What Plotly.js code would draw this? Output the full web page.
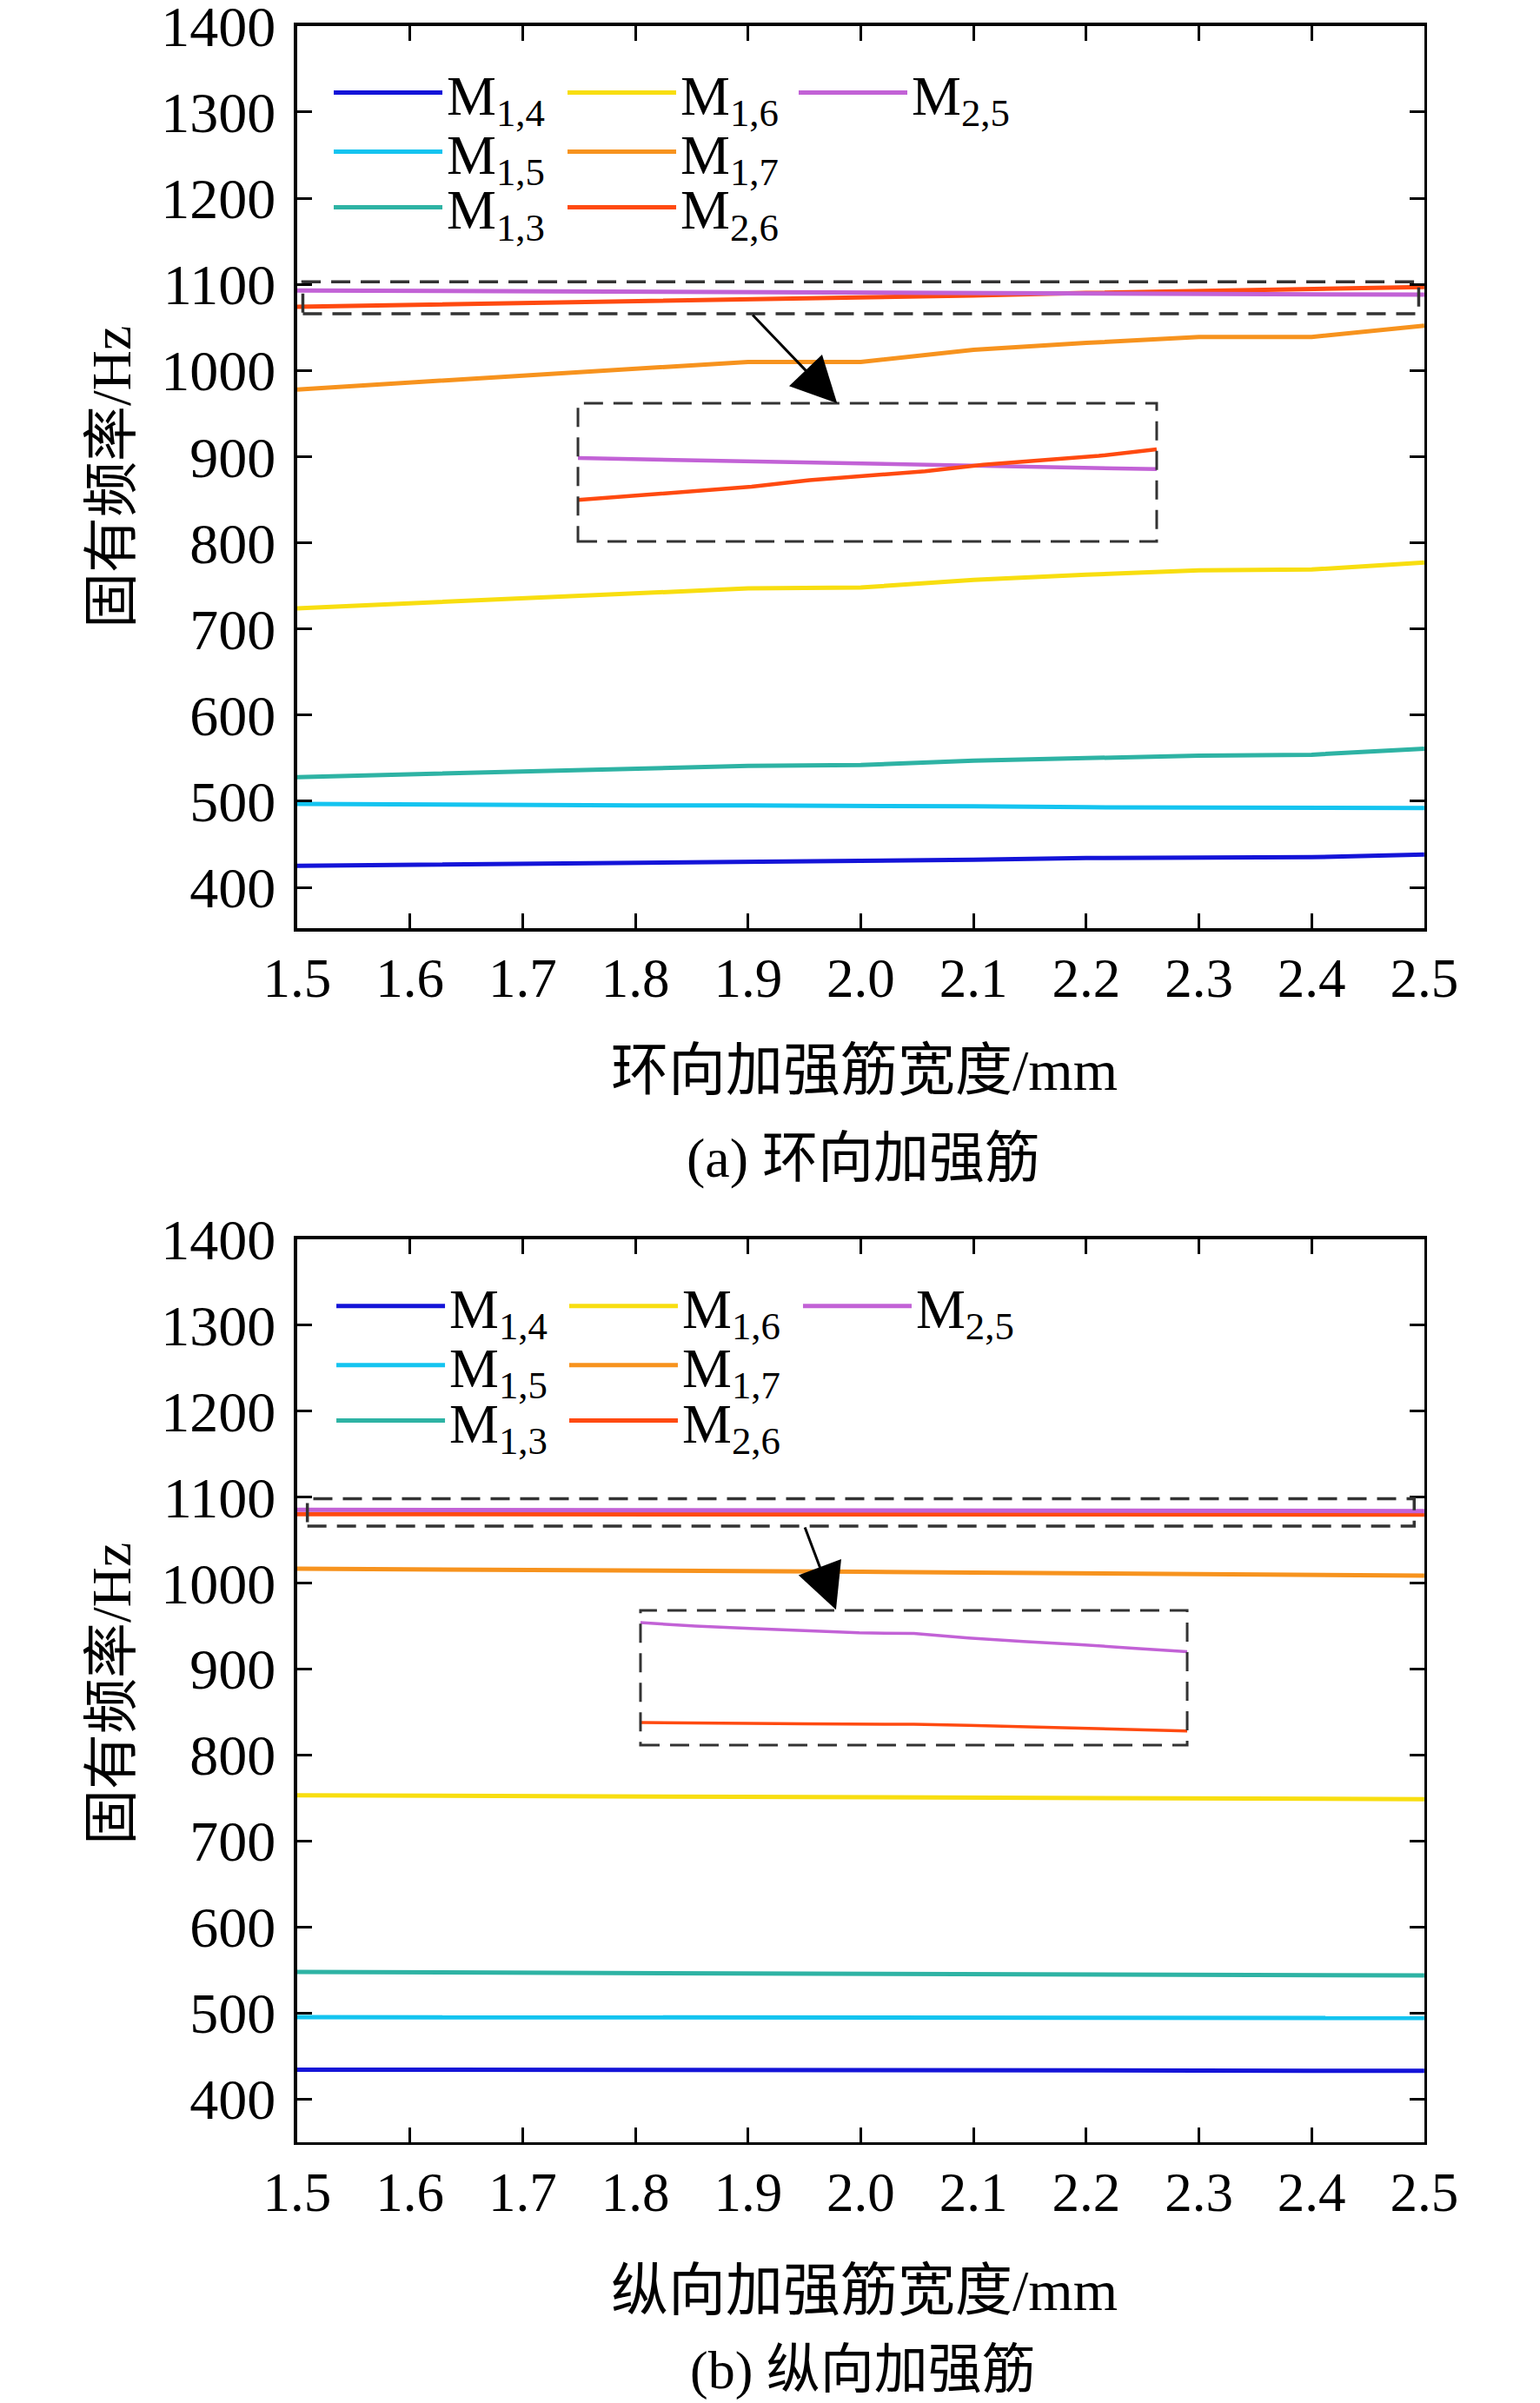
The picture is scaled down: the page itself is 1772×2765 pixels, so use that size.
<!DOCTYPE html>
<html>
<head>
<meta charset="utf-8">
<script src="https://cdn.plot.ly/plotly-3.0.1.min.js"></script>
<style>body{margin:0;background:#fff}</style>
</head>
<body>
<div id="plot" style="width:1772px;height:2765px"></div>
<script>
// stiffener width, mm
const widths = [1.5, 1.6, 1.7, 1.8, 1.9, 2.0, 2.1, 2.2, 2.3, 2.4, 2.5]

// (a) hoop stiffener, Hz
const a_M14 = [425, 426, 428, 429, 430, 430, 432, 434, 435, 435, 438]
const a_M15 = [497, 496, 496, 495, 495, 495, 494, 493, 493, 493, 492]
const a_M13 = [528, 531, 535, 538, 541, 542, 547, 550, 553, 554, 561]
const a_M16 = [724, 730, 736, 741, 747, 748, 757, 763, 768, 769, 777]
const a_M17 = [978, 986, 994, 1002, 1010, 1010, 1024, 1032, 1039, 1039, 1052]
const a_M26 = [1074, 1076, 1078, 1080, 1083, 1085, 1087, 1090, 1092, 1094, 1097]
const a_M25 = [1093, 1092.5, 1092, 1091.5, 1091, 1090.5, 1090, 1089.5, 1089, 1088.5, 1088]

// (b) longitudinal stiffener, Hz
const b_M14 = [434, 434, 434, 434, 433.5, 433.5, 433.5, 433, 433, 432.5, 432.5]
const b_M15 = [495, 495, 495, 494.8, 494.8, 494.6, 494.5, 494.4, 494.2, 494.1, 494]
const b_M13 = [547.5, 547, 547, 546.5, 546, 546, 545.5, 545, 544.5, 544, 543.5]
const b_M16 = [753, 752.5, 752, 751.5, 751, 750.5, 750, 749.5, 749, 748.5, 748.5]
const b_M17 = [1016.5, 1016, 1015, 1014, 1013.5, 1013, 1012, 1011, 1010.5, 1009.5, 1008.5]
const b_M26 = [1080, 1079.99, 1079.96, 1079.93, 1079.93, 1079.91, 1079.86, 1079.78, 1079.7, 1079.62, 1079.57]
const b_M25 = [1085, 1084.83, 1084.71, 1084.61, 1084.49, 1084.46, 1084.23, 1084.06, 1083.91, 1083.72, 1083.55]

const names = ['M<sub>1,4</sub>', 'M<sub>1,5</sub>', 'M<sub>1,3</sub>', 'M<sub>1,6</sub>', 'M<sub>1,7</sub>', 'M<sub>2,6</sub>', 'M<sub>2,5</sub>']
const colors = ['#1414d8', '#14c4f0', '#2eb3a4', '#f8de10', '#f7931e', '#ff4a10', '#c262d6']

const serif = 'Liberation Serif, Times New Roman, Noto Sans CJK SC, serif'

// legend slots, one per entry (3 columns x 3 rows, column-major)
const legCols = [0, 0, 0, 1, 1, 1, 2]
const legRows = [0, 1, 2, 0, 1, 2, 0]
const legXa = [0.2139, 0.3657, 0.5158]
const legYa = [0.9613, 0.9367, 0.9136]
const legXb = [0.2156, 0.3668, 0.5186]
const legYb = [0.4564, 0.4318, 0.4087]

function panel(series, xa, ya, first)
{
    var out = []
    for (var i = 0; i < series.length; i++)
    {
        var n = first + i
        out.push({
            x: widths,
            y: series[i],
            name: names[i],
            mode: 'lines',
            type: 'scatter',
            xaxis: xa,
            yaxis: ya,
            legend: n === 1 ? 'legend' : 'legend' + n,
            line: {color: colors[i], width: 5}
        })
    }
    return out
}

function inset(s26, s25, xa, ya, w)
{
    return [
        {x: widths, y: s25, mode: 'lines', xaxis: xa, yaxis: ya, showlegend: false,
         line: {color: colors[6], width: w}},
        {x: widths, y: s26, mode: 'lines', xaxis: xa, yaxis: ya, showlegend: false,
         line: {color: colors[5], width: w}}
    ]
}

var data = []
data = data.concat(panel([a_M14, a_M15, a_M13, a_M16, a_M17, a_M26, a_M25], 'x', 'y', 1))
data = data.concat(panel([b_M14, b_M15, b_M13, b_M16, b_M17, b_M26, b_M25], 'x2', 'y2', 8))
data = data.concat(inset(a_M26, a_M25, 'x3', 'y3', 4.5))
data = data.concat(inset(b_M26, b_M25, 'x4', 'y4', 3.5))

const mainX = {
    range: [1.5, 2.5], dtick: 0.1, tick0: 1.5, tickformat: '.1f',
    ticks: 'inside', ticklen: 17, tickwidth: 3, tickcolor: '#000',
    showline: true, linewidth: 3.5, linecolor: '#000', mirror: 'ticks',
    showgrid: false, zeroline: false, fixedrange: true,
    tickfont: {family: serif, size: 63, color: '#000'}
}
const mainY = {
    dtick: 100, tick0: 400, ticklabeloverflow: 'allow', ticklabelstandoff: 8,
    ticks: 'inside', ticklen: 17, tickwidth: 3, tickcolor: '#000',
    showline: true, linewidth: 3.5, linecolor: '#000', mirror: 'ticks',
    showgrid: false, zeroline: false, fixedrange: true,
    tickfont: {family: serif, size: 66, color: '#000'}
}
const hidden = {visible: false, fixedrange: true}

function dashedBox(xref, yref, x0, x1, y0, y1, w)
{
    return {type: 'rect', xref: xref, yref: yref, x0: x0, x1: x1, y0: y0, y1: y1,
        line: {color: '#333', width: w, dash: '22px,12px'}}
}

function label(text, x, y, size, angle)
{
    return {text: text, xref: 'paper', yref: 'paper', x: x, y: y,
        xanchor: 'center', yanchor: 'middle', showarrow: false, textangle: angle || 0,
        font: {family: serif, size: size, color: '#000'}}
}

function arrow(xr, yr, x, y, ax, ay)
{
    return {text: '', xref: xr, yref: yr, x: x, y: y, axref: xr, ayref: yr, ax: ax, ay: ay,
        showarrow: true, arrowhead: 2, arrowsize: 3.5, arrowwidth: 3, arrowcolor: '#000'}
}

const layout = {
    width: 1772,
    height: 2765,
    margin: {l: 0, r: 0, t: 0, b: 0},
    paper_bgcolor: '#fff',
    plot_bgcolor: '#fff',
    xaxis: Object.assign({}, mainX, {domain: [0.193, 0.9249], anchor: 'y'}),
    yaxis: Object.assign({}, mainY, {domain: [0.6137, 0.9892], range: [352.5, 1400], anchor: 'x'}),
    xaxis2: Object.assign({}, mainX, {domain: [0.193, 0.9249], anchor: 'y2'}),
    yaxis2: Object.assign({}, mainY, {domain: [0.1085, 0.4844], range: [349.5, 1400], anchor: 'x2'}),
    xaxis3: Object.assign({}, hidden, {domain: [0.3753, 0.7511], range: [1.5, 2.5], anchor: 'y3'}),
    yaxis3: Object.assign({}, hidden, {domain: [0.7747, 0.8322], range: [1055.2, 1117.9], anchor: 'x3'}),
    xaxis4: Object.assign({}, hidden, {domain: [0.4159, 0.7709], range: [1.5, 2.5], anchor: 'y4'}),
    yaxis4: Object.assign({}, hidden, {domain: [0.2738, 0.3298], range: [1078.87, 1085.61], anchor: 'x4'}),
    shapes: [
        dashedBox('x', 'y', 1.505, 2.495, 1066, 1103, 3.5),
        dashedBox('x2', 'y2', 1.509, 2.491, 1066, 1098, 3.5),
        dashedBox('x3 domain', 'y3 domain', 0, 1, 0, 1, 3),
        dashedBox('x4 domain', 'y4 domain', 0, 1, 0, 1, 3)
    ],
    annotations: [
        label('固有频率/Hz', 0.0722, 0.8014, 64, -90),
        label('环向加强筋宽度/mm', 0.561, 0.5546, 66),
        label('(a) 环向加强筋', 0.5605, 0.5181, 64),
        label('固有频率/Hz', 0.0722, 0.2951, 64, -90),
        label('纵向加强筋宽度/mm', 0.561, 0.0470, 66),
        label('(b) 纵向加强筋', 0.5605, 0.0136, 62),
        arrow('x', 'y', 1.979, 962, 1.903, 1066),
        arrow('x2', 'y2', 1.978, 968.7, 1.950, 1066)
    ],
    showlegend: true
}

for (var k = 0; k < 14; k++)
{
    var j = k % 7
    var upper = k < 7
    var key = k === 0 ? 'legend' : 'legend' + (k + 1)
    layout[key] = {
        x: (upper ? legXa : legXb)[legCols[j]],
        y: (upper ? legYa : legYb)[legRows[j]],
        xanchor: 'left', yanchor: 'middle',
        bgcolor: 'rgba(0,0,0,0)', borderwidth: 0,
        font: {family: serif, size: 64, color: '#000'},
        itemwidth: 125
    }
}

Plotly.newPlot('plot', data, layout, {staticPlot: true})
</script>
</body>
</html>
